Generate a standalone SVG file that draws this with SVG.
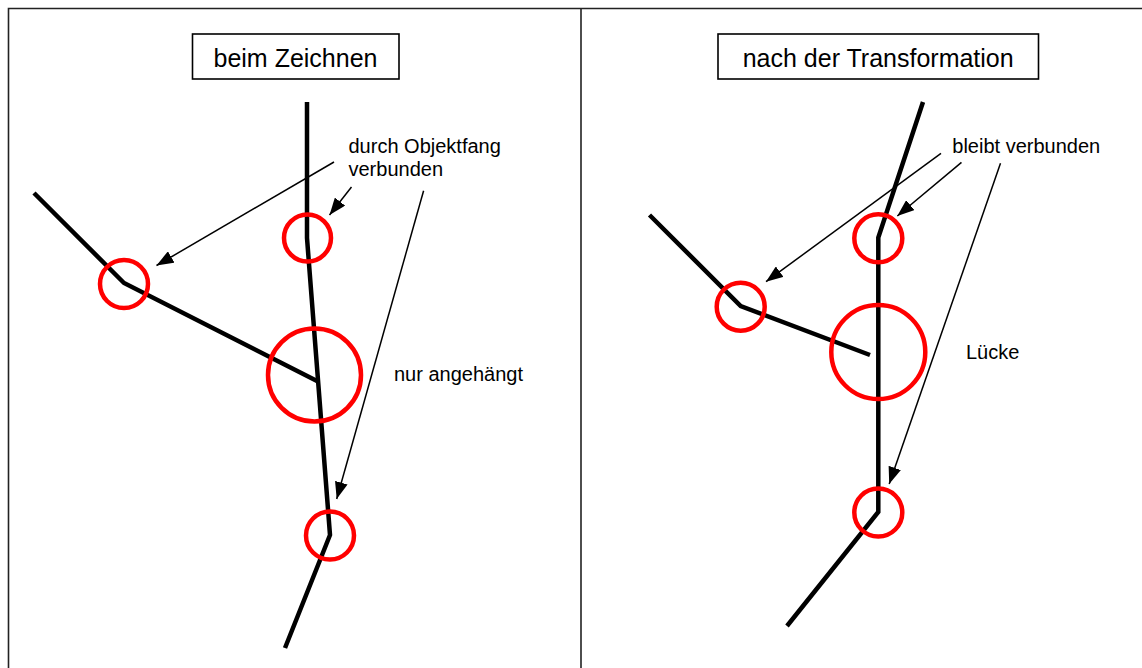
<svg xmlns="http://www.w3.org/2000/svg" width="1142" height="668" viewBox="0 0 1142 668">
<style>
.frame{fill:none;stroke:#222;stroke-width:1.6}
.box{fill:#fff;stroke:#000;stroke-width:1.6}
.title{font-family:"Liberation Sans",Arial,sans-serif;font-size:25px;fill:#000;text-anchor:middle}
.lbl{font-family:"Liberation Sans",Arial,sans-serif;font-size:20px;fill:#000}
.geo{fill:none;stroke:#000;stroke-width:4.5;stroke-linejoin:miter}
.ring{fill:none;stroke:#f00;stroke-width:4.5}
.arr{fill:none;stroke:#000;stroke-width:1.5;marker-end:url(#ah)}
</style>
<defs>
<marker id="ah" markerUnits="userSpaceOnUse" viewBox="0 0 17 13" refX="17" refY="6.5" markerWidth="17" markerHeight="13" orient="auto">
<path d="M0,0 L17,6.5 L0,13 z" fill="#000"/>
</marker>
</defs>
<rect width="1142" height="668" fill="#fff"/>
<g id="frame">
<path class="frame" d="M8.5,670 V8.5 H1145 M581,8.5 V670"/>
</g>
<g id="title-left">
<rect class="box" x="192.5" y="34" width="206.5" height="45"/>
<text class="title" x="295.5" y="67">beim Zeichnen</text>
</g>
<g id="title-right">
<rect class="box" x="718" y="34" width="320.5" height="45"/>
<text class="title" x="878.2" y="67">nach der Transformation</text>
</g>
<g id="left-geometry">
<polyline class="geo" points="307,102 307,238 330,535 285,648"/>
<polyline class="geo" points="34,193 124,283 317,381"/>
</g>
<g id="left-rings">
<circle class="ring" cx="307.5" cy="238" r="23.5"/>
<circle class="ring" cx="124" cy="284" r="24"/>
<circle class="ring" cx="314.5" cy="375" r="46.5"/>
<circle class="ring" cx="330" cy="535.5" r="24"/>
</g>
<g id="left-labels">
<text class="lbl" x="348.5" y="153">durch Objektfang</text>
<text class="lbl" x="348.5" y="176">verbunden</text>
<text class="lbl" x="394" y="381">nur angehängt</text>
</g>
<g id="right-geometry">
<polyline class="geo" points="923,102 878.3,237.5 878.3,512 787,626"/>
<polyline class="geo" points="649.5,215 740.7,306 870,355"/>
</g>
<g id="right-rings">
<circle class="ring" cx="878.3" cy="238.3" r="24"/>
<circle class="ring" cx="740.7" cy="306.7" r="24"/>
<circle class="ring" cx="878.3" cy="352" r="47"/>
<circle class="ring" cx="878.3" cy="512.5" r="24"/>
</g>
<g id="right-labels">
<text class="lbl" x="952.3" y="152.5">bleibt verbunden</text>
<text class="lbl" x="966" y="358.5">Lücke</text>
</g>
<g id="connectors">
<line class="arr" x1="334" y1="162" x2="156.5" y2="265.5"/>
<line class="arr" x1="351.5" y1="187" x2="329.5" y2="215"/>
<line class="arr" x1="423.6" y1="190.7" x2="336.7" y2="499"/>
<line class="arr" x1="941" y1="153.3" x2="766" y2="281.7"/>
<line class="arr" x1="961.5" y1="162.3" x2="897.3" y2="216"/>
<line class="arr" x1="1000.5" y1="163.3" x2="889.2" y2="484"/>
</g>
</svg>
